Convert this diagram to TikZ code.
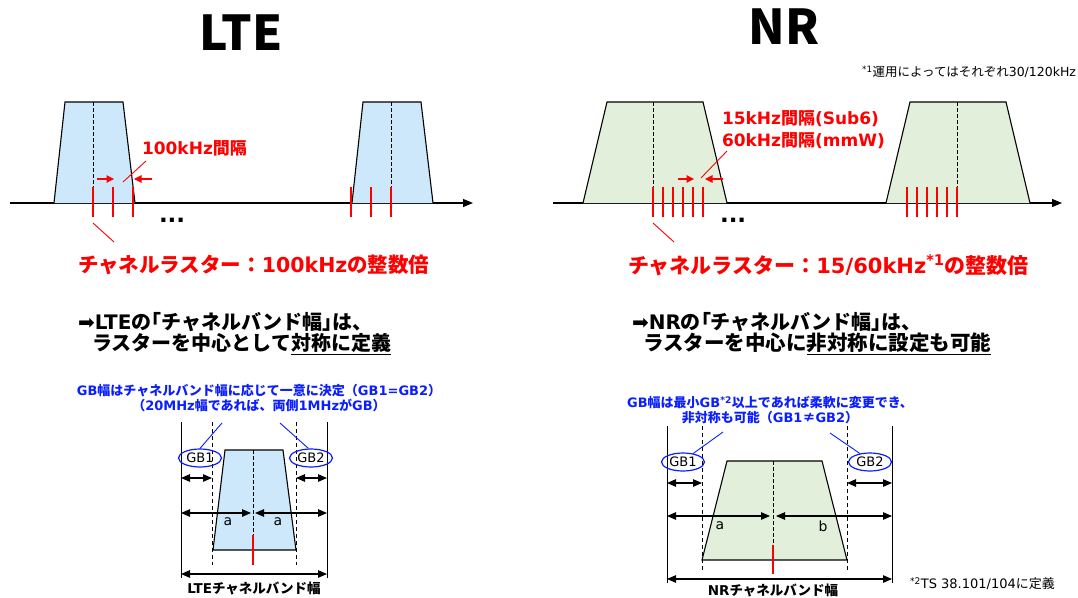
\documentclass[tikz,border=0pt]{standalone}
\usepackage{fontspec}
\setmainfont{DejaVu Sans}
\newfontfamily\jp{Noto Sans CJK JP}
\newfontfamily\jpp{Noto Sans CJK JP}[RawFeature=+palt]
\newfontfamily\dvs{DejaVu Sans}
\usetikzlibrary{arrows.meta,shapes.geometric}
\definecolor{ltefill}{RGB}{204,232,250}
\definecolor{nrfill}{RGB}{226,239,218}
\definecolor{myred}{RGB}{255,0,0}
\definecolor{myblue}{RGB}{10,30,255}
\newcommand{\J}[1]{{\jp #1}}
\newcommand{\JP}[1]{{\jpp #1}}
\newcommand{\fs}[1]{\fontsize{#1}{#1}\selectfont}
\tikzset{
  axisline/.style={line width=1.2pt,-{Triangle[length=10pt,width=8pt]}},
  band/.style={draw=black,line width=1.1pt,line join=miter},
  cdash/.style={line width=0.8pt,dash pattern=on 3.5pt off 2.5pt},
  raster/.style={draw=myred,line width=2.2pt},
  redarr/.style={draw=myred,fill=myred,line width=1.1pt,-{Triangle[length=7.5pt,width=7.5pt]}},
  redlead/.style={draw=myred,line width=0.9pt},
  bluelead/.style={draw=myblue,line width=0.9pt},
  dimarr/.style={line width=1.1pt,{Triangle[length=9pt,width=7.5pt]}-{Triangle[length=9pt,width=7.5pt]}},
  gbell/.style={ellipse,draw=myblue,line width=1.2pt,minimum width=43pt,minimum height=18pt,inner sep=0pt,font=\fs{13}},
  solidv/.style={line width=1pt},
  dashv/.style={line width=0.9pt,dash pattern=on 4pt off 3pt},
  txt/.style={inner sep=0pt,outer sep=0pt},
  bluetxt/.style={txt,align=center,text=myblue,font=\fontsize{13}{15}\selectfont\bfseries},
}
\begin{document}
\begin{tikzpicture}[x=1pt,y=-1pt]
\useasboundingbox (0,0) rectangle (1078,597);
% ---------------- titles
\node[txt] (tlte) at (241,33) {\fs{48}\jp\bfseries LTE};
\node[txt] (tnr) at (784,27) {\fs{48}\jp\bfseries NR};
\node[txt,anchor=east] (fn1) at (1076,72) {\fs{12.5}\textsuperscript{*1}\J{運用によってはそれぞれ}30/120kHz};
% ---------------- LTE top
\draw[axisline] (10,203) -- (473,203);
\filldraw[band,fill=ltefill] (54,203) -- (65,102) -- (123,102) -- (135,203);
\draw[cdash] (93,102) -- (93,187);
\foreach \x in {93,113,133} \draw[raster] (\x,187) -- (\x,217);
\filldraw[band,fill=ltefill] (352,203) -- (363,102) -- (421,102) -- (433,203);
\draw[cdash] (391,102) -- (391,187);
\foreach \x in {351,371,391} \draw[raster] (\x,187) -- (\x,217);
\draw[redarr] (97,179) -- (114,179);
\draw[redarr] (152,179) -- (134,179);
\node[txt,anchor=west,text=myred] (lsp) at (142,148) {\fs{17}\bfseries 100kHz\J{間隔}};
\draw[redlead] (146,161) -- (123,182);
\node[txt,anchor=base west] (ldots) at (159,222) {\fs{23}\bfseries ...};
\draw[redlead] (93,223) -- (114,242);
\node[txt,anchor=west,text=myred] (lras) at (78,265) {\fs{20.5}\bfseries\J{チャネルラスター：}100kHz\J{の整数倍}};
% ---------------- NR top
\draw[axisline] (553,203) -- (1062,203);
\filldraw[band,fill=nrfill] (583,203) -- (607,102) -- (703,102) -- (727,203);
\draw[cdash] (653,102) -- (653,187);
\foreach \x in {653,663,673,683,693,703} \draw[raster] (\x,187) -- (\x,217);
\filldraw[band,fill=nrfill] (886,203) -- (910,102) -- (1006,102) -- (1030,203);
\draw[cdash] (957,102) -- (957,187);
\foreach \x in {907,917,927,937,947,957} \draw[raster] (\x,187) -- (\x,217);
\draw[redarr] (678,179) -- (694,179);
\draw[redarr] (723,179) -- (705,179);
\node[txt,anchor=west,text=myred] (nsp1) at (722,119) {\fs{17}\bfseries 15kHz\J{間隔}(Sub6)};
\node[txt,anchor=west,text=myred] (nsp2) at (722,141) {\fs{17}\bfseries 60kHz\J{間隔}(mmW)};
\draw[redlead] (727,151) -- (701,178);
\node[txt,anchor=base west] (ndots) at (720,222) {\fs{23}\bfseries ...};
\draw[redlead] (653,223) -- (674,242);
\node[txt,anchor=west,text=myred] (nras) at (628,265) {\fs{21}\bfseries\J{チャネルラスター：}15/60kHz\textsuperscript{*1}\J{の整数倍}};
% ---------------- middle statements
\node[txt,anchor=west] (lm1) at (78,322) {\fs{20}\bfseries{\dvs\mdseries ➡}LTE\J{の}\JP{「}\J{チャネルバンド幅}\JP{」}\J{は、}};
\node[txt,anchor=west] (lm2) at (92,344) {\fs{20}\bfseries\J{ラスターを中心として}\underline{\J{対称に定義}}};
\node[txt,anchor=west] (nm1) at (632,322) {\fs{20}\bfseries{\dvs\mdseries ➡}NR\J{の}\JP{「}\J{チャネルバンド幅}\JP{」}\J{は、}};
\node[txt,anchor=west] (nm2) at (643,344) {\fs{20.5}\bfseries\J{ラスターを中心に}\underline{\J{非対称に設定も可能}}};
% ---------------- LTE bottom
\node[bluetxt] (linfo) at (259,398.5) {GB\J{幅はチャネルバンド幅に応じて一意に決定（}GB1=GB2\J{）}\\\J{（}20MHz\J{幅であれば、両側}1MHz\J{が}GB\J{）}};
\draw[solidv] (181,422) -- (181,578);
\draw[solidv] (327,422) -- (327,578);
\draw[dashv] (212,422) -- (212,565);
\draw[dashv] (296,422) -- (296,565);
\filldraw[band,fill=ltefill] (213,550) -- (225,450) -- (283,450) -- (296,550) -- cycle;
\draw[cdash] (253,450) -- (253,535);
\draw[raster,line width=2.5pt] (253,535) -- (253,565);
\node[gbell] (lgb1) at (200,458) {GB1};
\node[gbell] (lgb2) at (311,458) {GB2};
\coordinate (lla) at (222,423);
\coordinate (llb) at (280,423);
\draw[bluelead] (lla) -- (lgb1.north);
\draw[bluelead] (llb) -- (lgb2.105);
\draw[dimarr] (181,478) -- (212,478);
\draw[dimarr] (296,478) -- (327,478);
\draw[dimarr] (181,513) -- (251,513);
\draw[dimarr] (255,513) -- (327,513);
\node[txt] (la1) at (228,522) {\fs{14}a};
\node[txt] (la2) at (278,522) {\fs{14}a};
\draw[dimarr] (181,574) -- (327,574);
\node[txt] (lbw) at (254,588) {\fs{13.5}\bfseries LTE\J{チャネルバンド幅}};
% ---------------- NR bottom
\node[bluetxt] (ninfo) at (770,410.5) {GB\J{幅は最小}GB\textsuperscript{*2}\J{以上であれば柔軟に変更でき、}\\\J{非対称も可能（}GB1\J{≠}GB2\J{）}};
\draw[solidv] (667,426) -- (667,583);
\draw[solidv] (892,426) -- (892,583);
\draw[dashv] (702,426) -- (702,570);
\draw[dashv] (847,426) -- (847,570);
\filldraw[band,fill=nrfill] (702,560) -- (727,461) -- (822,461) -- (847,560) -- cycle;
\draw[cdash] (773,461) -- (773,545);
\draw[raster,line width=2.5pt] (773,545) -- (773,574);
\node[gbell] (ngb1) at (683,462) {GB1};
\node[gbell] (ngb2) at (870,462) {GB2};
\coordinate (nla) at (723,432);
\coordinate (nlb) at (830,433);
\draw[bluelead] (nla) -- (ngb1.40);
\draw[bluelead] (nlb) -- (ngb2.140);
\draw[dimarr] (667,483) -- (702,483);
\draw[dimarr] (847,483) -- (892,483);
\draw[dimarr] (667,516) -- (770,516);
\draw[dimarr] (776,516) -- (892,516);
\node[txt] (na) at (720,526) {\fs{14}a};
\node[txt] (nb) at (823,526) {\fs{14}b};
\draw[dimarr] (667,579) -- (892,579);
\node[txt] (nbw) at (773,590) {\fs{13.5}\bfseries NR\J{チャネルバンド幅}};
\node[txt,anchor=west] (fn2) at (910,584) {\fs{13}\textsuperscript{*2}TS 38.101/104\J{に定義}};
\end{tikzpicture}
\end{document}
